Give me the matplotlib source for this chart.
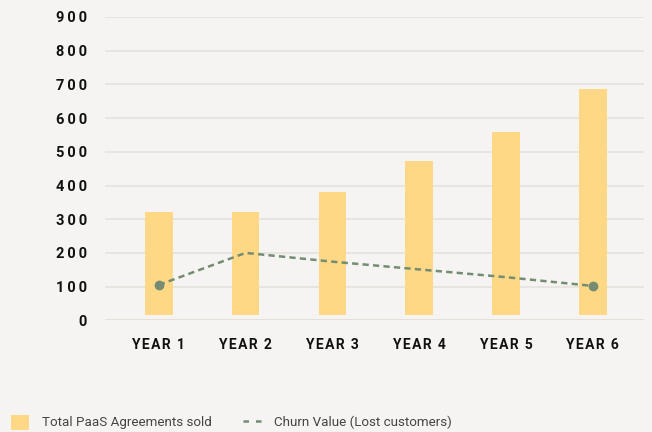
import matplotlib
matplotlib.use("Agg")
import matplotlib.pyplot as plt
import numpy as np
from matplotlib.patches import Patch
from matplotlib.lines import Line2D

categories = ["YEAR 1", "YEAR 2", "YEAR 3", "YEAR 4", "YEAR 5", "YEAR 6"]
agreements_sold = [322, 322, 380, 474, 559, 687]
churn_value = [105, 200, 174, 151, 128, 102]
y_ticks = [0, 100, 200, 300, 400, 500, 600, 700, 800, 900]

BG = "#f5f4f2"
BAR = "#fed884"
LINE = "#748c72"
GRID = "#e6e3de"
ZERO = "#e2dbd2"
TXT = "#111111"
BASE = 17  # visual gap between bars and axis

def spaced(s, sp="\u200a"):
    return sp.join(list(s))

fig = plt.figure(figsize=(6.52, 4.32), dpi=100, facecolor=BG)
ax = fig.add_axes([105/652, 1-320.3/432, (644-105)/652, (320.3-17)/432])
ax.set_facecolor(BG)

x = np.arange(len(categories))
ax.bar(x, np.array(agreements_sold) - BASE, bottom=BASE, width=0.32, color=BAR, zorder=2)
ax.plot(x, churn_value, color=LINE, lw=1.8, ls=(0, (2.5, 1.7)), zorder=3)
ax.plot([x[0], x[-1]], [churn_value[0], churn_value[-1]], ls="none", marker="o",
        ms=6, color=LINE, zorder=4)

ax.set_xlim(-0.62, 5.59)
ax.set_ylim(0, 900)
ax.set_yticks(y_ticks)
ax.set_yticklabels([spaced(str(v), "\u200a\u200a") for v in y_ticks])
ax.set_xticks(x)
ax.set_xticklabels([spaced(c) for c in categories])
for lab in ax.get_yticklabels() + ax.get_xticklabels():
    lab.set_fontfamily(["Roboto", "DejaVu Sans"])
    lab.set_fontweight("bold")
    lab.set_color(TXT)
for lab in ax.get_yticklabels():
    lab.set_fontsize(10.5)
for lab in ax.get_xticklabels():
    lab.set_fontsize(10)
ax.tick_params(axis="y", length=0, pad=13)
ax.tick_params(axis="x", length=0, pad=13)

for v in y_ticks:
    ax.axhline(v, color=ZERO if v == 0 else GRID, lw=1.2, zorder=1)
for s in ax.spines.values():
    s.set_visible(False)

handles = [Patch(facecolor=BAR, edgecolor="none"),
           Line2D([0], [0], color=LINE, lw=1.8, ls=(0, (2.2, 2.8)))]
labels = ["Total PaaS Agreements sold", "Churn Value (Lost customers)"]
leg = fig.legend(handles, labels, loc="lower left", bbox_to_anchor=(-0.001, -0.022),
                 ncol=2, frameon=False, handlelength=1.35, handleheight=1.35,
                 columnspacing=2.35, handletextpad=0.95,
                 prop={"family": ["Roboto", "DejaVu Sans"], "size": 9.6})
for t in leg.get_texts():
    t.set_color("#444444")

fig.savefig("out.png", dpi=100, facecolor=BG)
